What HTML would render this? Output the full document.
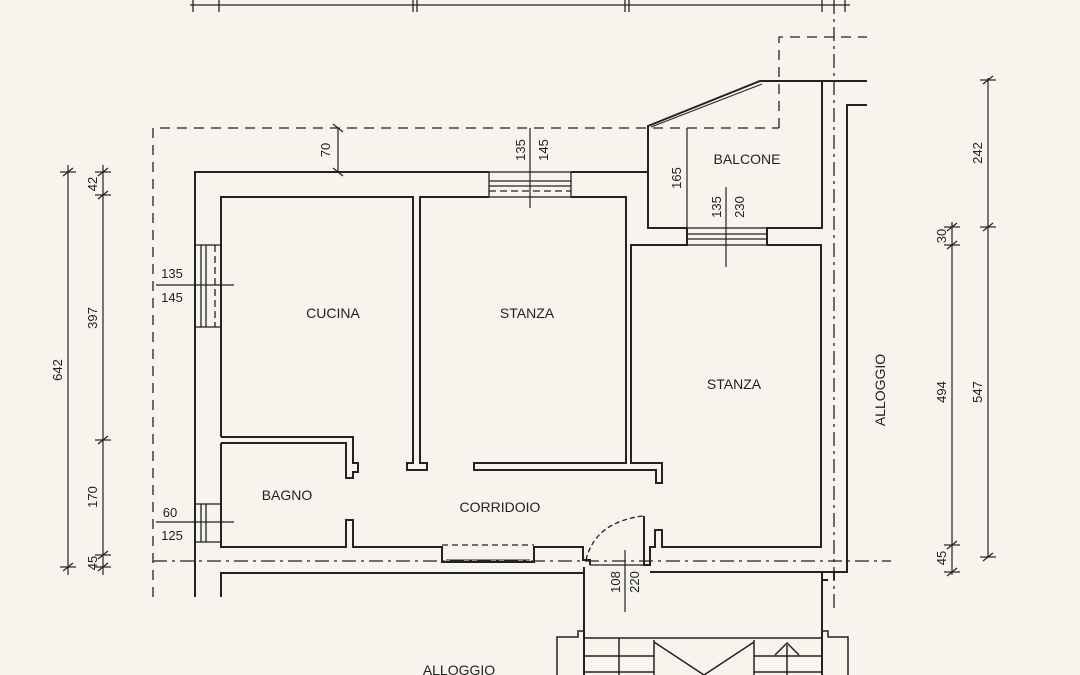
<!DOCTYPE html>
<html><head><meta charset="utf-8"><style>
html,body{margin:0;padding:0;background:#f6f4ec;}
svg{display:block}
text{font-family:"Liberation Sans",Arial,sans-serif;fill:#222;font-size:14px}
</style></head><body>
<svg width="1080" height="675" viewBox="0 0 1080 675" xmlns="http://www.w3.org/2000/svg">
<rect width="1080" height="675" fill="#f6f4ec"/>
<g stroke="#222" stroke-width="2" fill="none">
<!-- top dimension -->
<line x1="190" y1="5" x2="850" y2="5" stroke-width="1.3"/>
<g stroke-width="1.3">
<line x1="193" y1="0" x2="193" y2="12"/><line x1="219" y1="0" x2="219" y2="12"/>
<line x1="413" y1="0" x2="413" y2="12"/><line x1="417" y1="0" x2="417" y2="12"/>
<line x1="625" y1="0" x2="625" y2="12"/><line x1="629" y1="0" x2="629" y2="12"/>
<line x1="822" y1="0" x2="822" y2="12"/><line x1="845" y1="0" x2="845" y2="12"/>
</g>
<!-- dashed outline -->
<g stroke-width="1.3" stroke-dasharray="10,7">
<polyline points="153,597 153,128 779,128"/>
<polyline points="779,128 779,37 867,37"/>
</g>
<!-- dash-dot axis -->
<g stroke-width="1.3" stroke-dasharray="14,5,3,5">
<line x1="834" y1="0" x2="834" y2="613"/>
<line x1="153" y1="561" x2="891" y2="561"/>
</g>
<!-- outer walls -->
<polyline points="195,597 195,172 489,172"/>
<polyline points="571,172 649,172"/>
<polyline points="221,597 221,573 584,573 584,567"/>
<polyline points="221,437 221,197 413,197 413,463 407,463 407,470 427,470 427,463 420,463 420,197 489,197"/>
<polyline points="571,197 626,197 626,463 474,463 474,470 656,470 656,483 662,483 662,463 631,463 631,245 687,245 687,228 648,228 648,133"/>
<polyline points="767,245 767,228 822,228 822,81 760,81 648,126 648,133"/>
<line x1="651" y1="127" x2="762" y2="84" stroke-width="1"/>
<line x1="822" y1="81" x2="867" y2="81"/>
<polyline points="867,105 847,105 847,572 834,572 834,580"/>
<polyline points="767,245 821,245 821,547 662,547 662,530 655,530 655,547 650,547 650,565 644,565 644,516"/>
<!-- bagno -->
<polyline points="221,443 346,443 346,478 353,478 353,472 358,472 358,463 353,463 353,437 221,437"/>
<polyline points="221,443 221,547 346,547 346,520 353,520 353,547 442,547 442,562 534,562 534,547 583,547 583,560 590,560 590,565"/>
<line x1="442" y1="545" x2="534" y2="545" stroke-dasharray="6,4" stroke-width="1.3"/>
<line x1="446" y1="560" x2="530" y2="560" stroke-width="1"/>
<polyline points="584,573 584,675"/>
<line x1="590" y1="565" x2="644" y2="565" stroke-width="1.3"/>
<line x1="650" y1="572" x2="834" y2="572"/>
<polyline points="822,572 822,580 828,580"/>
<line x1="822" y1="580" x2="822" y2="675"/>
<!-- door arc -->
<path d="M 586 560 Q 595 522 643 516" stroke-dasharray="5,3" stroke-width="1.3"/>
<!-- windows -->
<g stroke-width="1.3">
<rect x="489" y="172" width="82" height="25"/>
<line x1="489" y1="181" x2="571" y2="181"/><line x1="489" y1="186" x2="571" y2="186"/>
<line x1="489" y1="191" x2="571" y2="191" stroke-dasharray="7,4"/>
<rect x="195" y="245" width="26" height="82"/>
<line x1="201" y1="245" x2="201" y2="327"/><line x1="206" y1="245" x2="206" y2="327"/><line x1="215" y1="245" x2="215" y2="327" stroke-dasharray="7,4"/>
<rect x="195" y="504" width="26" height="38"/>
<line x1="201" y1="504" x2="201" y2="542"/><line x1="206" y1="504" x2="206" y2="542"/>
<rect x="687" y="228" width="80" height="17"/>
<line x1="687" y1="234" x2="767" y2="234"/><line x1="687" y1="239" x2="767" y2="239"/>
</g>
<!-- stairs -->
<g stroke-width="1.5">
<polyline points="584,638 822,638"/>
<polyline points="557,675 557,637 578,637 578,631 584,631"/>
<polyline points="848,675 848,637 828,637 828,631 822,631"/>
<line x1="584" y1="656" x2="654" y2="656"/><line x1="754" y1="656" x2="822" y2="656"/>
<line x1="584" y1="672" x2="654" y2="672"/><line x1="754" y1="672" x2="822" y2="672"/>
<line x1="619" y1="638" x2="619" y2="675"/>
<line x1="654" y1="640" x2="654" y2="675"/><line x1="754" y1="640" x2="754" y2="675"/>
<line x1="654" y1="642" x2="704" y2="675"/><line x1="754" y1="642" x2="704" y2="675"/>
<line x1="787" y1="645" x2="787" y2="675"/>
<polyline points="775,655 787,643 799,655"/>
</g>
<!-- dimension lines -->
<g stroke-width="1.2">
<line x1="338" y1="128" x2="338" y2="172"/>
<line x1="333" y1="124" x2="343" y2="132"/><line x1="333" y1="168" x2="343" y2="176"/>
<line x1="530" y1="128" x2="530" y2="208"/>
<line x1="687" y1="128" x2="687" y2="228"/>
<line x1="726" y1="187" x2="726" y2="267"/>
<line x1="156" y1="285" x2="234" y2="285"/>
<line x1="156" y1="522" x2="234" y2="522"/>
<line x1="625" y1="550" x2="625" y2="612"/>
<line x1="68" y1="165" x2="68" y2="575"/>
<line x1="103" y1="165" x2="103" y2="575"/>
<line x1="988" y1="78" x2="988" y2="557"/>
<line x1="952" y1="222" x2="952" y2="575"/>
<g>
<line x1="60" y1="172" x2="76" y2="172"/><line x1="63" y1="176" x2="73" y2="168"/>
<line x1="60" y1="567" x2="76" y2="567"/><line x1="63" y1="571" x2="73" y2="563"/>
<line x1="95" y1="172" x2="111" y2="172"/><line x1="98" y1="176" x2="108" y2="168"/>
<line x1="95" y1="195" x2="111" y2="195"/><line x1="98" y1="199" x2="108" y2="191"/>
<line x1="95" y1="440" x2="111" y2="440"/><line x1="98" y1="444" x2="108" y2="436"/>
<line x1="95" y1="555" x2="111" y2="555"/><line x1="98" y1="559" x2="108" y2="551"/>
<line x1="95" y1="567" x2="111" y2="567"/><line x1="98" y1="571" x2="108" y2="563"/>
<line x1="980" y1="80" x2="996" y2="80"/><line x1="983" y1="84" x2="993" y2="76"/>
<line x1="980" y1="227" x2="996" y2="227"/><line x1="983" y1="231" x2="993" y2="223"/>
<line x1="980" y1="557" x2="996" y2="557"/><line x1="983" y1="561" x2="993" y2="553"/>
<line x1="944" y1="227" x2="960" y2="227"/><line x1="947" y1="231" x2="957" y2="223"/>
<line x1="944" y1="245" x2="960" y2="245"/><line x1="947" y1="249" x2="957" y2="241"/>
<line x1="944" y1="545" x2="960" y2="545"/><line x1="947" y1="549" x2="957" y2="541"/>
<line x1="944" y1="572" x2="960" y2="572"/><line x1="947" y1="576" x2="957" y2="568"/>
</g>
</g>
</g>
<!-- labels -->
<text x="333" y="318" text-anchor="middle">CUCINA</text>
<text x="527" y="318" text-anchor="middle">STANZA</text>
<text x="734" y="389" text-anchor="middle">STANZA</text>
<text x="747" y="164" text-anchor="middle">BALCONE</text>
<text x="287" y="500" text-anchor="middle">BAGNO</text>
<text x="500" y="512" text-anchor="middle">CORRIDOIO</text>
<text x="459" y="675" text-anchor="middle">ALLOGGIO</text>
<text transform="translate(885,390) rotate(-90)" text-anchor="middle">ALLOGGIO</text>
<g font-size="13">
<text x="172" y="278" text-anchor="middle" style="font-size:13px">135</text>
<text x="172" y="302" text-anchor="middle" style="font-size:13px">145</text>
<text x="170" y="517" text-anchor="middle" style="font-size:13px">60</text>
<text x="172" y="540" text-anchor="middle" style="font-size:13px">125</text>
<text transform="translate(330,150) rotate(-90)" text-anchor="middle" style="font-size:13px">70</text>
<text transform="translate(525,150) rotate(-90)" text-anchor="middle" style="font-size:13px">135</text>
<text transform="translate(548,150) rotate(-90)" text-anchor="middle" style="font-size:13px">145</text>
<text transform="translate(681,178) rotate(-90)" text-anchor="middle" style="font-size:13px">165</text>
<text transform="translate(721,207) rotate(-90)" text-anchor="middle" style="font-size:13px">135</text>
<text transform="translate(744,207) rotate(-90)" text-anchor="middle" style="font-size:13px">230</text>
<text transform="translate(620,582) rotate(-90)" text-anchor="middle" style="font-size:13px">108</text>
<text transform="translate(639,582) rotate(-90)" text-anchor="middle" style="font-size:13px">220</text>
<text transform="translate(62,370) rotate(-90)" text-anchor="middle" style="font-size:13px">642</text>
<text transform="translate(97,184) rotate(-90)" text-anchor="middle" style="font-size:13px">42</text>
<text transform="translate(97,318) rotate(-90)" text-anchor="middle" style="font-size:13px">397</text>
<text transform="translate(97,497) rotate(-90)" text-anchor="middle" style="font-size:13px">170</text>
<text transform="translate(97,563) rotate(-90)" text-anchor="middle" style="font-size:13px">45</text>
<text transform="translate(982,153) rotate(-90)" text-anchor="middle" style="font-size:13px">242</text>
<text transform="translate(982,392) rotate(-90)" text-anchor="middle" style="font-size:13px">547</text>
<text transform="translate(946,236) rotate(-90)" text-anchor="middle" style="font-size:13px">30</text>
<text transform="translate(946,392) rotate(-90)" text-anchor="middle" style="font-size:13px">494</text>
<text transform="translate(946,558) rotate(-90)" text-anchor="middle" style="font-size:13px">45</text>
</g>
</svg>
</body></html>
